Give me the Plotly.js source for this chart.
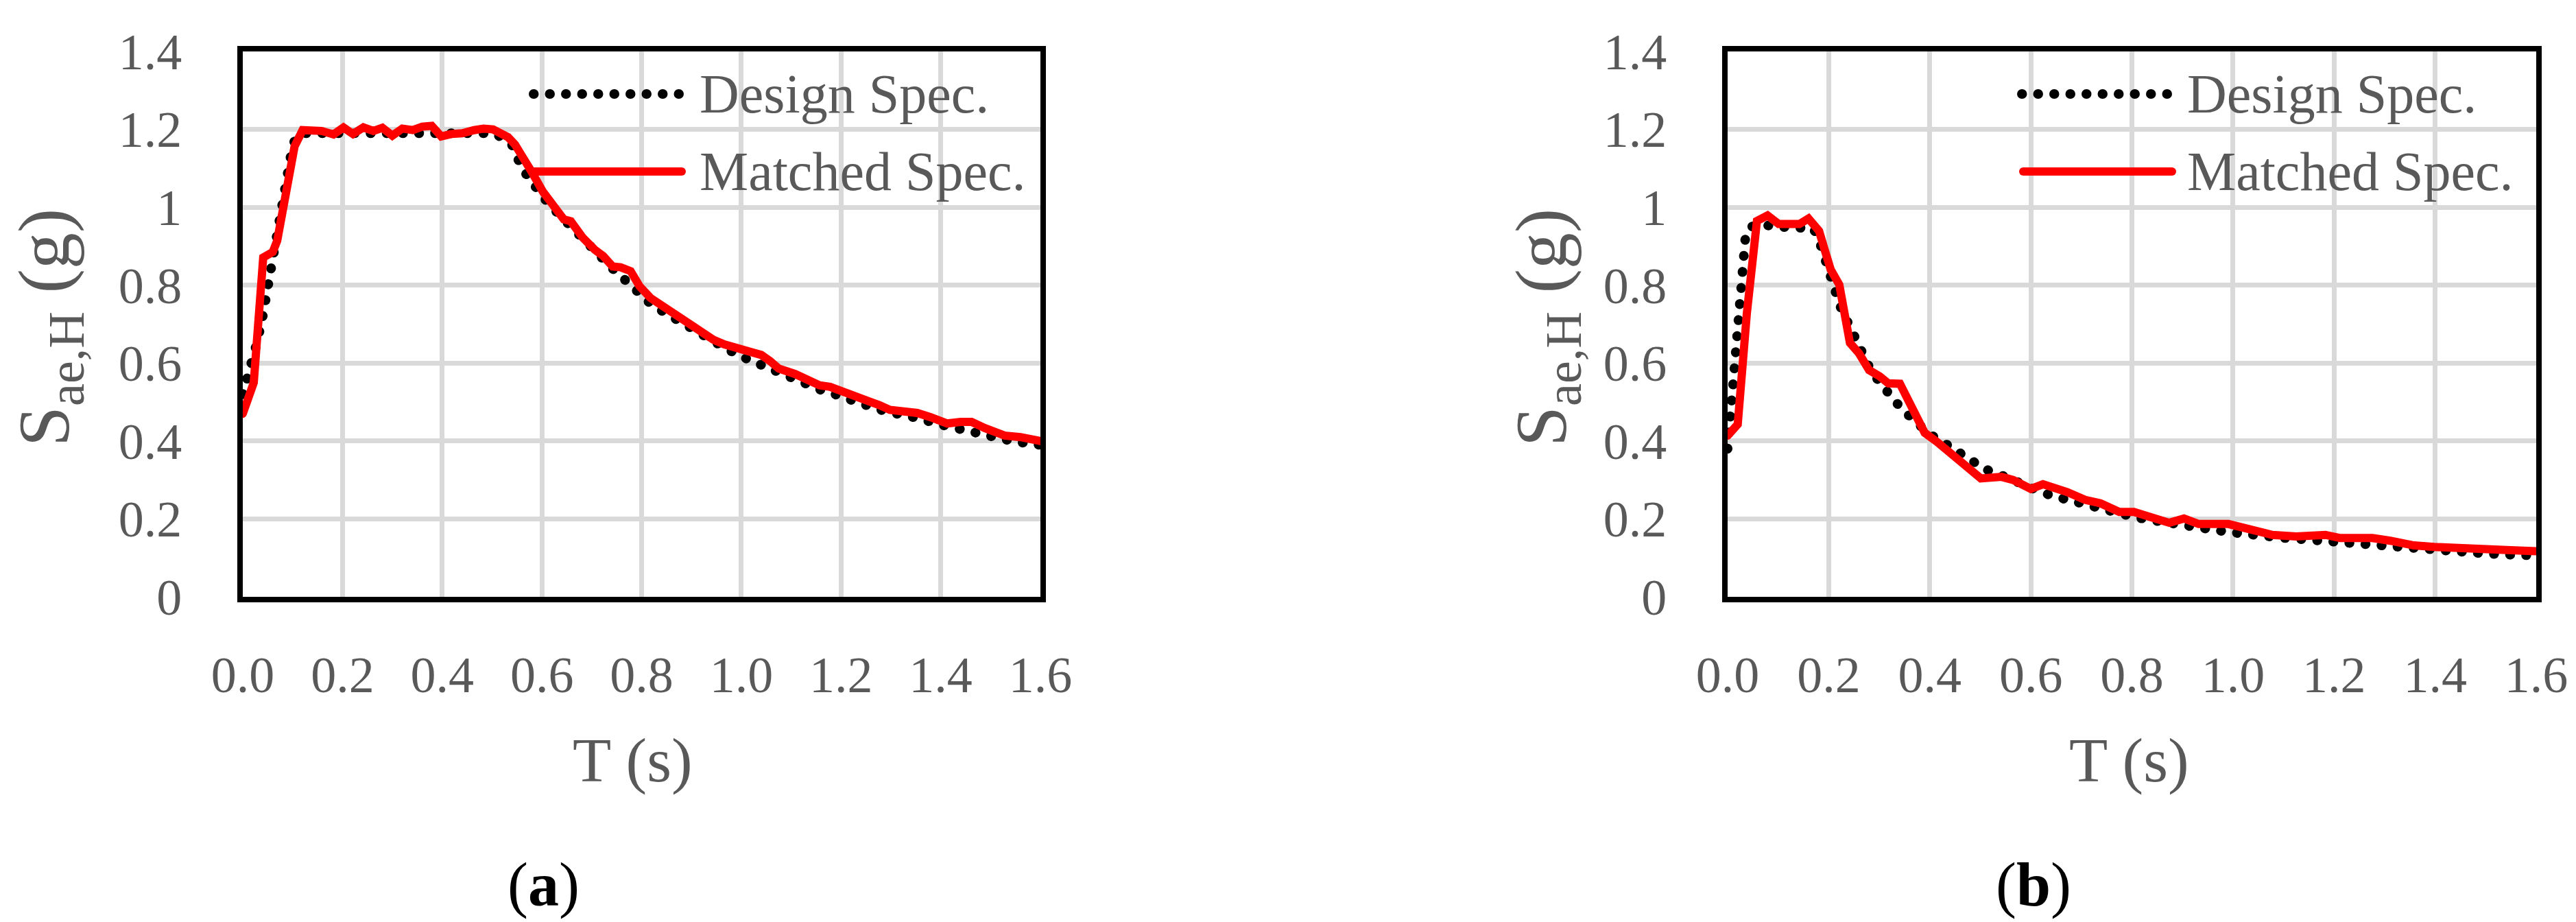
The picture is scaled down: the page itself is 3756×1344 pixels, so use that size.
<!DOCTYPE html>
<html>
<head>
<meta charset="utf-8">
<script src="https://cdn.plot.ly/plotly-3.0.1.min.js"></script>
<style>
  html, body { margin: 0; padding: 0; background: #fff; overflow: hidden; }
  #chart { width: 3756px; height: 1344px; }
  .js-line, .shapelayer path { stroke-linecap: round; }
</style>
</head>
<body>
<div id="chart"></div>
<script>
// ---------- DATA ----------
// (a) Design spectrum
const periodDesignA = [0, 0.01, 0.02, 0.03, 0.04, 0.05, 0.06, 0.07, 0.08, 0.09, 0.10, 0.11, 0.125, 0.15, 0.2, 0.25, 0.3, 0.35, 0.4, 0.45, 0.5, 0.52, 0.54, 0.56, 0.58, 0.60, 0.62, 0.65, 0.68, 0.70, 0.72, 0.75, 0.77, 0.80, 0.82, 0.85, 0.88, 0.91, 0.94, 0.97, 1.00, 1.03, 1.06, 1.10, 1.13, 1.16, 1.19, 1.22, 1.26, 1.29, 1.32, 1.36, 1.39, 1.42, 1.45, 1.49, 1.52, 1.55, 1.60];
const designA = [0.52, 0.56, 0.61, 0.66, 0.72, 0.79, 0.86, 0.95, 1.03, 1.10, 1.16, 1.185, 1.19, 1.19, 1.19, 1.19, 1.19, 1.19, 1.19, 1.19, 1.19, 1.18, 1.16, 1.10, 1.06, 1.03, 1.00, 0.96, 0.92, 0.895, 0.865, 0.832, 0.81, 0.777, 0.75, 0.727, 0.703, 0.678, 0.66, 0.637, 0.617, 0.601, 0.582, 0.564, 0.543, 0.531, 0.519, 0.504, 0.488, 0.476, 0.469, 0.457, 0.445, 0.436, 0.425, 0.418, 0.406, 0.398, 0.39];
// (a) Matched spectrum
const periodMatchedA = [0.0, 0.022, 0.041, 0.06, 0.069, 0.104, 0.12, 0.136, 0.158, 0.182, 0.202, 0.221, 0.242, 0.262, 0.28, 0.30, 0.32, 0.341, 0.36, 0.379, 0.398, 0.418, 0.44, 0.464, 0.483, 0.502, 0.518, 0.532, 0.546, 0.562, 0.58, 0.602, 0.624, 0.644, 0.658, 0.682, 0.706, 0.723, 0.742, 0.758, 0.778, 0.796, 0.818, 0.835, 0.857, 0.878, 0.90, 0.922, 0.944, 0.966, 0.993, 1.02, 1.04, 1.058, 1.075, 1.108, 1.129, 1.157, 1.178, 1.206, 1.233, 1.255, 1.277, 1.298, 1.326, 1.353, 1.38, 1.413, 1.44, 1.462, 1.489, 1.528, 1.56, 1.60];
const matchedA = [0.47, 0.55, 0.871, 0.885, 0.914, 1.157, 1.198, 1.196, 1.196, 1.187, 1.205, 1.188, 1.205, 1.196, 1.204, 1.184, 1.202, 1.198, 1.207, 1.209, 1.182, 1.188, 1.19, 1.198, 1.202, 1.2, 1.192, 1.18, 1.161, 1.13, 1.09, 1.04, 1.004, 0.969, 0.964, 0.922, 0.891, 0.875, 0.848, 0.846, 0.836, 0.797, 0.767, 0.752, 0.738, 0.715, 0.695, 0.68, 0.66, 0.648, 0.637, 0.626, 0.621, 0.605, 0.586, 0.572, 0.558, 0.543, 0.539, 0.527, 0.514, 0.506, 0.492, 0.48, 0.478, 0.472, 0.461, 0.445, 0.449, 0.449, 0.433, 0.414, 0.41, 0.40];

// (b) Design spectrum
const periodDesignB = [0, 0.005, 0.01, 0.015, 0.02, 0.025, 0.03, 0.035, 0.045, 0.07, 0.10, 0.14, 0.17, 0.183, 0.192, 0.204, 0.213, 0.224, 0.239, 0.251, 0.268, 0.283, 0.303, 0.324, 0.346, 0.373, 0.40, 0.425, 0.451, 0.48, 0.509, 0.542, 0.575, 0.606, 0.638, 0.67, 0.703, 0.734, 0.769, 0.801, 0.833, 0.866, 0.901, 0.936, 0.967, 1.0, 1.034, 1.066, 1.101, 1.136, 1.171, 1.204, 1.237, 1.27, 1.305, 1.35, 1.40, 1.45, 1.50, 1.55, 1.60];
const designB = [0.38, 0.46, 0.53, 0.61, 0.69, 0.78, 0.87, 0.92, 0.95, 0.955, 0.95, 0.95, 0.946, 0.907, 0.864, 0.82, 0.785, 0.742, 0.703, 0.66, 0.625, 0.582, 0.547, 0.511, 0.48, 0.449, 0.417, 0.398, 0.374, 0.351, 0.328, 0.312, 0.292, 0.277, 0.261, 0.249, 0.238, 0.226, 0.218, 0.206, 0.198, 0.19, 0.183, 0.175, 0.171, 0.165, 0.159, 0.155, 0.151, 0.148, 0.144, 0.14, 0.136, 0.133, 0.13, 0.124, 0.119, 0.114, 0.111, 0.108, 0.106];
// (b) Matched spectrum
const periodMatchedB = [0, 0.02, 0.038, 0.058, 0.079, 0.101, 0.122, 0.142, 0.16, 0.181, 0.192, 0.204, 0.221, 0.242, 0.26, 0.28, 0.301, 0.318, 0.341, 0.365, 0.39, 0.414, 0.449, 0.478, 0.501, 0.542, 0.565, 0.60, 0.624, 0.672, 0.707, 0.738, 0.775, 0.804, 0.833, 0.874, 0.903, 0.932, 0.991, 1.02, 1.055, 1.078, 1.125, 1.183, 1.212, 1.276, 1.311, 1.358, 1.398, 1.466, 1.541, 1.60];
const matchedB = [0.414, 0.443, 0.727, 0.965, 0.979, 0.957, 0.957, 0.957, 0.971, 0.939, 0.891, 0.84, 0.801, 0.652, 0.625, 0.582, 0.566, 0.548, 0.547, 0.484, 0.421, 0.398, 0.359, 0.328, 0.304, 0.308, 0.30, 0.277, 0.289, 0.269, 0.249, 0.24, 0.218, 0.218, 0.206, 0.19, 0.201, 0.187, 0.187, 0.179, 0.165, 0.159, 0.155, 0.159, 0.151, 0.151, 0.144, 0.132, 0.128, 0.122, 0.12, 0.117];

// Tick values / labels
const xTicks = [0, 0.2, 0.4, 0.6, 0.8, 1.0, 1.2, 1.4, 1.6];
const xTickText = ["0.0", "0.2", "0.4", "0.6", "0.8", "1.0", "1.2", "1.4", "1.6"];
const yTicks = [0, 0.2, 0.4, 0.6, 0.8, 1.0, 1.2, 1.4];
const yTickText = ["0", "0.2", "0.4", "0.6", "0.8", "1", "1.2", "1.4"];
const seriesNames = ["Design Spec.", "Matched Spec."];
const xTitle = "T (s)";
const yTitle = "S<sub>ae,H</sub> (g)";
const panelLabels = ["(<b>a</b>)", "(<b>b</b>)"];

// ---------- LAYOUT ----------
const W = 3756, H = 1344;
const px = v => v / W;
const py = v => 1 - v / H;
const FONT = "Liberation Serif, Times New Roman, serif";
const GRAY = "#595959";
const DOT_DASH = "0.5px,23px";
const DOT_W = 14;

function axisX(domain, anchor) {
  return {
    domain: domain, anchor: anchor, range: [0, 1.6],
    tickmode: "array", tickvals: xTicks, ticktext: xTickText,
    showgrid: true, gridcolor: "#d9d9d9", gridwidth: 7,
    showline: true, mirror: true, linecolor: "#000", linewidth: 8,
    zeroline: false, ticks: "", ticklabelstandoff: 42,
    tickfont: { family: FONT, size: 74, color: GRAY },
    fixedrange: true
  };
}
function axisY(domain, anchor) {
  return {
    domain: domain, anchor: anchor, range: [0, 1.4],
    tickmode: "array", tickvals: yTicks, ticktext: yTickText,
    showgrid: true, gridcolor: "#d9d9d9", gridwidth: 7,
    showline: true, mirror: true, linecolor: "#000", linewidth: 8,
    zeroline: false, ticks: "", ticklabelstandoff: 66,
    tickfont: { family: FONT, size: 74, color: GRAY },
    fixedrange: true
  };
}

const yDom = [py(870), py(75)];
const panels = [
  { xd: [px(354), px(1517)], yTitleX: 72, xTitleX: 922, labelX: 792,
    dot: [778, 990], red: [778, 994], textX: 1018 },
  { xd: [px(2519), px(3698)], yTitleX: 2255, xTitleX: 3104, labelX: 2965,
    dot: [2948, 3160], red: [2950, 3167], textX: 3187 }
];

const traces = [
  { x: periodDesignA, y: designA, xaxis: "x", yaxis: "y", mode: "lines", name: seriesNames[0],
    line: { color: "#000", width: DOT_W, dash: DOT_DASH }, showlegend: false },
  { x: periodMatchedA, y: matchedA, xaxis: "x", yaxis: "y", mode: "lines", name: seriesNames[1],
    line: { color: "#ff0000", width: 12 }, showlegend: false },
  { x: periodDesignB, y: designB, xaxis: "x2", yaxis: "y2", mode: "lines", name: seriesNames[0],
    line: { color: "#000", width: DOT_W, dash: DOT_DASH }, showlegend: false },
  { x: periodMatchedB, y: matchedB, xaxis: "x2", yaxis: "y2", mode: "lines", name: seriesNames[1],
    line: { color: "#ff0000", width: 12 }, showlegend: false }
];

const annotations = [];
const shapes = [];
const legendY = [137, 250];
panels.forEach((p, i) => {
  annotations.push({ xref: "paper", yref: "paper", x: px(p.yTitleX), y: py(478),
    text: yTitle, textangle: -90, showarrow: false, xanchor: "center", yanchor: "middle",
    font: { family: FONT, size: 106, color: GRAY } });
  annotations.push({ xref: "paper", yref: "paper", x: px(p.xTitleX), y: py(1108),
    text: xTitle, showarrow: false, xanchor: "center", yanchor: "middle",
    font: { family: FONT, size: 92, color: GRAY } });
  annotations.push({ xref: "paper", yref: "paper", x: px(p.labelX), y: py(1290),
    text: panelLabels[i], showarrow: false, xanchor: "center", yanchor: "middle",
    font: { family: FONT, size: 90, color: "#000" } });
  seriesNames.forEach((nm, k) => {
    annotations.push({ xref: "paper", yref: "paper", x: px(p.textX), y: py(legendY[k]),
      text: nm, showarrow: false, xanchor: "left", yanchor: "middle",
      font: { family: FONT, size: 80, color: GRAY } });
  });
  shapes.push({ type: "line", xref: "paper", yref: "paper",
    x0: px(p.dot[0]), x1: px(p.dot[1]), y0: py(legendY[0]), y1: py(legendY[0]),
    line: { color: "#000", width: DOT_W, dash: DOT_DASH } });
  shapes.push({ type: "line", xref: "paper", yref: "paper",
    x0: px(p.red[0]), x1: px(p.red[1]), y0: py(legendY[1]), y1: py(legendY[1]),
    line: { color: "#ff0000", width: 12 } });
});

const layout = {
  width: W, height: H,
  margin: { l: 0, r: 0, t: 0, b: 0, pad: 0 },
  paper_bgcolor: "#fff", plot_bgcolor: "#fff",
  showlegend: false,
  xaxis: axisX(panels[0].xd, "y"),
  yaxis: axisY(yDom, "x"),
  xaxis2: axisX(panels[1].xd, "y2"),
  yaxis2: axisY(yDom, "x2"),
  annotations: annotations,
  shapes: shapes
};

Plotly.newPlot("chart", traces, layout, { staticPlot: true, displayModeBar: false });
</script>
</body>
</html>
